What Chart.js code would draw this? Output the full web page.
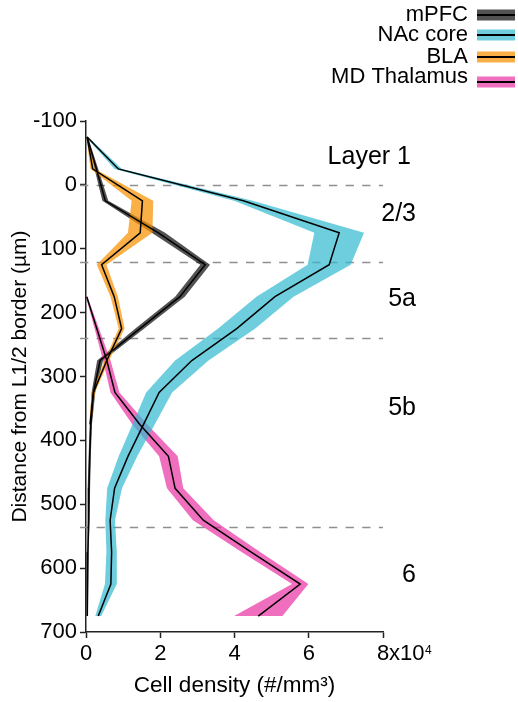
<!DOCTYPE html>
<html>
<head>
<meta charset="utf-8">
<script src="https://cdn.jsdelivr.net/npm/chart.js@4.4.1/dist/chart.umd.min.js"></script>
<style>
  html, body { margin: 0; padding: 0; background: #fff; }
  #wrap { width: 518px; height: 702px; }
</style>
</head>
<body>
<div id="wrap"><canvas id="c" width="518" height="702"></canvas></div>
<script>
// Depth bins (µm from the L1/2 border), 50 µm wide
const depths = [-75, -25, 25, 75, 125, 175, 225, 275, 325, 375, 425, 475, 525, 575, 625, 675];

// Cell density, units of 10^4 cells / mm^3 (mean and SEM per bin)
const mpfcMean = [0.03, 0.28, 0.52, 1.95, 3.21, 2.53, 1.45, 0.38, 0.20, 0.13, 0.10, 0.08, 0.07, 0.05, 0.04, 0.03];
const mpfcSem  = [0.02, 0.05, 0.08, 0.18, 0.13, 0.13, 0.12, 0.08, 0.05, 0.03, 0.03, 0.03, 0.03, 0.02, 0.02, 0.02];

const nacMean = [0.03, 0.87, 4.24, 6.82, 6.55, 5.09, 4.06, 2.85, 1.97, 1.55, 1.13, 0.77, 0.65, 0.69, 0.67, 0.33];
const nacSem  = [0.03, 0.10, 0.25, 0.67, 0.58, 0.50, 0.50, 0.45, 0.35, 0.30, 0.25, 0.20, 0.13, 0.14, 0.16, 0.08];

const blaMean = [0.03, 0.18, 1.52, 1.46, 0.42, 0.76, 0.96, 0.56, 0.20, 0.11, null, null, null, null, null, null];
const blaSem  = [0.02, 0.06, 0.29, 0.33, 0.13, 0.10, 0.08, 0.06, 0.04, 0.03, null, null, null, null, null, null];

const mdMean = [null, null, null, null, null, 0.02, 0.29, 0.56, 0.78, 1.45, 2.22, 2.40, 3.16, 4.45, 5.77, 4.64];
const mdSem  = [null, null, null, null, null, 0.02, 0.06, 0.10, 0.12, 0.20, 0.25, 0.22, 0.28, 0.25, 0.22, 0.65];

const seriesNames = ['mPFC', 'NAc core', 'BLA', 'MD Thalamus'];

// Axis ticks and layer annotations
const xTicks = [0, 2, 4, 6, 8];
const yTicks = [-100, 0, 100, 200, 300, 400, 500, 600, 700];
const layerBorders = [0, 120, 240, 535];
const layerNames = ['Layer 1', '2/3', '5a', '5b', '6'];
const layerLabelDepth = [-44, 45, 179, 350, 611];

const FONT = '"Liberation Sans", Arial, Helvetica, sans-serif';
const colors = {
  mpfc: 'rgba(0, 0, 0, 0.68)',
  nac: 'rgba(48, 185, 208, 0.7)',
  bla: 'rgba(248, 145, 0, 0.72)',
  md: 'rgba(234, 48, 162, 0.7)'
};

function linePoints(mean) {
  const pts = [];
  depths.forEach((d, i) => { if (mean[i] !== null) pts.push({ x: mean[i], y: d }); });
  return pts;
}

// Closed outline of the mean ± SEM band: down the upper edge, back up the lower edge
function bandPoints(mean, sem) {
  const up = [], lo = [];
  depths.forEach((d, i) => {
    if (mean[i] === null) return;
    up.push({ x: mean[i] + sem[i], y: d });
    lo.push({ x: Math.max(0, mean[i] - sem[i]), y: d });
  });
  return up.concat(lo.reverse());
}

function meanLine(label, mean) {
  return {
    label, data: linePoints(mean),
    borderColor: '#000', borderWidth: 1.5, pointRadius: 0, fill: false, tension: 0
  };
}
function band(label, mean, sem, color) {
  return {
    label: label + ' SEM', data: bandPoints(mean, sem),
    borderColor: 'rgba(0,0,0,0)', borderWidth: 0, backgroundColor: color,
    pointRadius: 0, fill: 'shape', tension: 0
  };
}

// Dashed layer borders under the data
const layerBordersPlugin = {
  id: 'layerBorders',
  beforeDatasetsDraw(chart) {
    const { ctx, scales: { x, y } } = chart;
    ctx.save();
    ctx.strokeStyle = '#8f8f8f';
    ctx.lineWidth = 1.4;
    ctx.setLineDash([8.3, 8.3]);
    layerBorders.forEach(d => {
      const py = Math.round(y.getPixelForValue(d)) + 0.5;
      ctx.beginPath();
      ctx.moveTo(x.getPixelForValue(0) - 6, py);
      ctx.lineTo(x.getPixelForValue(8), py);
      ctx.stroke();
    });
    ctx.restore();
  }
};

// Layer names, legend and the x10^4 multiplier
const annotationsPlugin = {
  id: 'annotations',
  afterDraw(chart) {
    const { ctx, scales: { x, y } } = chart;
    ctx.save();
    ctx.fillStyle = '#000';

    // layer names on the right (the heading sits a little further left)
    ctx.font = '25px ' + FONT;
    ctx.textAlign = 'right';
    ctx.textBaseline = 'middle';
    const labelRight = x.getPixelForValue(8) + 33;
    layerNames.forEach((t, i) => {
      const px = i === 0 ? labelRight - 5 : labelRight;
      ctx.fillText(t, px, y.getPixelForValue(layerLabelDepth[i]));
    });

    // legend: name, then band swatch with mean line
    const swatchColors = [colors.mpfc, colors.nac, colors.bla, colors.md];
    const textY = [15.4, 35.4, 57, 77];
    const swatchY = [15, 35, 57, 82];
    ctx.font = '22px ' + FONT;
    ctx.textAlign = 'right';
    seriesNames.forEach((name, i) => {
      ctx.fillStyle = '#000';
      ctx.fillText(name, 468, textY[i]);
      ctx.fillStyle = swatchColors[i];
      ctx.fillRect(477, swatchY[i] - 5.5, 38, 11);
      ctx.fillStyle = '#000';
      ctx.fillRect(477, swatchY[i] - 1, 38, 2);
    });

    // "x10^4" after the last x tick label
    const item = x.getLabelItems().find(it => String(it.label) === '8');
    if (item) {
      const o = item.options;
      const ty = o.translation[1] + item.textOffset;
      ctx.font = '22px ' + FONT;
      ctx.textBaseline = o.textBaseline;
      ctx.textAlign = 'left';
      const x0 = o.translation[0] + ctx.measureText('8').width / 2;
      ctx.fillText('x10', x0, ty);
      const m = ctx.measureText('0');
      const digitTop = ty - m.actualBoundingBoxAscent;
      const w = ctx.measureText('x10').width;
      ctx.font = '12px ' + FONT;
      ctx.textBaseline = 'alphabetic';
      ctx.fillText('4', x0 + w + 0.5, digitTop + 8.6);
    }
    ctx.restore();
  }
};

const tickFont = { family: FONT, size: 22 };

new Chart(document.getElementById('c'), {
  type: 'line',
  data: {
    datasets: [
      meanLine('mPFC', mpfcMean),
      meanLine('NAc core', nacMean),
      meanLine('BLA', blaMean),
      meanLine('MD Thalamus', mdMean),
      band('NAc core', nacMean, nacSem, colors.nac),
      band('BLA', blaMean, blaSem, colors.bla),
      band('MD Thalamus', mdMean, mdSem, colors.md),
      band('mPFC', mpfcMean, mpfcSem, colors.mpfc)
    ]
  },
  options: {
    responsive: false,
    animation: false,
    events: [],
    indexAxis: 'y',
    layout: { padding: { top: 121, right: 135, bottom: 0, left: 0 } },
    plugins: { legend: { display: false }, tooltip: { enabled: false } },
    scales: {
      x: {
        type: 'linear', position: 'bottom', min: 0, max: 8,
        afterBuildTicks: s => { s.ticks = xTicks.map(v => ({ value: v })); },
        ticks: { font: tickFont, color: '#000', padding: 3, maxRotation: 0 },
        grid: { display: true, drawOnChartArea: false, drawTicks: true, tickLength: 6, tickColor: '#222', tickWidth: 1.5 },
        border: { display: true, color: '#222', width: 1.5 },
        title: { display: true, text: 'Cell density (#/mm³)', font: { family: FONT, size: 22.5 }, color: '#000', padding: { top: 0, bottom: 3 } },
        afterFit: s => { s.height = 70; }
      },
      y: {
        type: 'linear', position: 'left', reverse: true, min: -100, max: 700,
        afterBuildTicks: s => { s.ticks = yTicks.map(v => ({ value: v })); },
        ticks: { font: tickFont, color: '#000', padding: 3 },
        grid: { display: true, drawOnChartArea: false, drawTicks: true, tickLength: 6, tickColor: '#222', tickWidth: 1.5 },
        border: { display: true, color: '#222', width: 1.5 },
        title: { display: true, text: 'Distance from L1/2 border (µm)', font: { family: FONT, size: 21 }, color: '#000', padding: { top: 8, bottom: 0 } },
        afterFit: s => { s.width = 86; }
      }
    }
  },
  plugins: [layerBordersPlugin, annotationsPlugin]
});
</script>
</body>
</html>
